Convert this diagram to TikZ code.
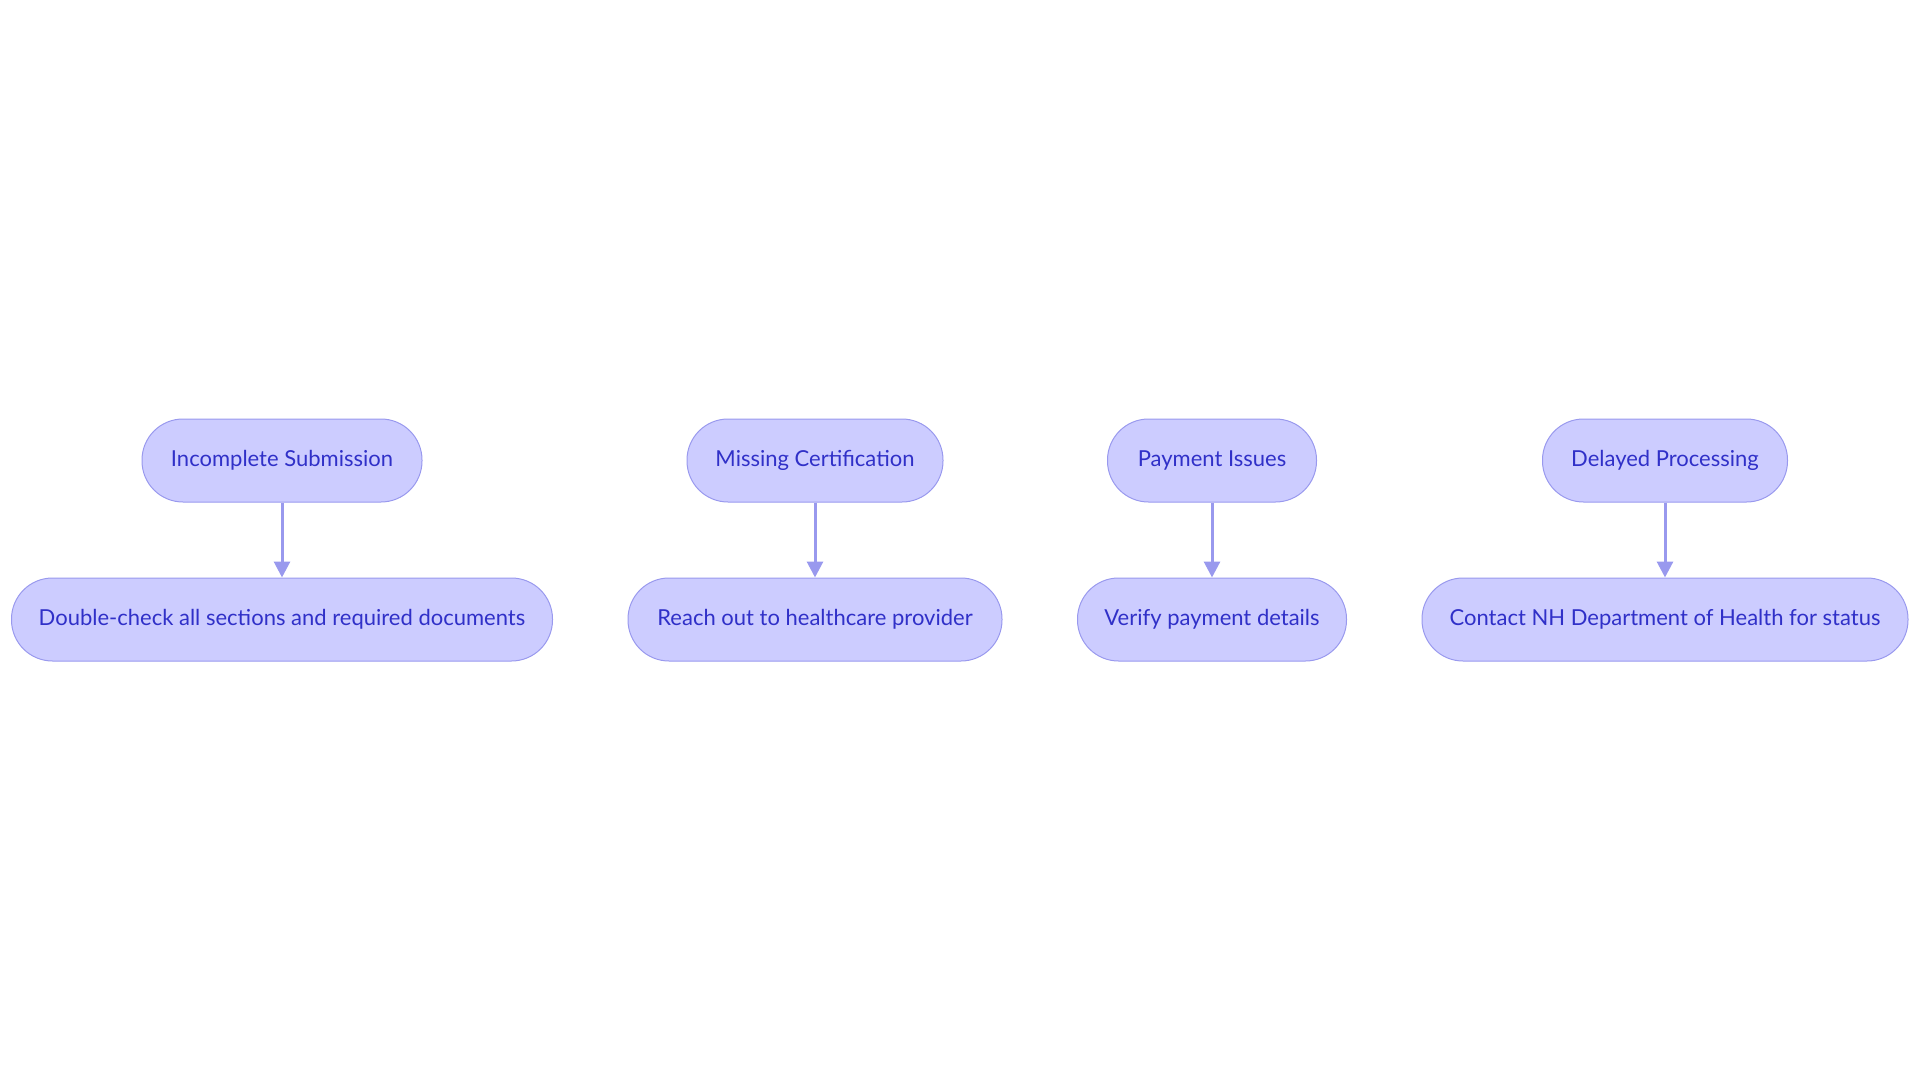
\documentclass[tikz,border=0pt]{standalone}
\usepackage{fontspec}
\setmainfont{Lato}
\usepackage{xcolor}
\usetikzlibrary{arrows.meta, positioning}

\definecolor{pillfill}{HTML}{CCCCFF}
\definecolor{pillline}{HTML}{9999EE}
\definecolor{pilltext}{HTML}{3030C8}

\begin{document}
\begin{tikzpicture}[>={Triangle[length=16pt,width=16pt]}, x=1pt, y=1pt, node distance=75pt]
  \tikzstyle{pill} = [rectangle, rounded corners=41pt, draw=pillline, fill=pillfill, text=pilltext, minimum height=83pt, line width=1pt, font=\fontsize{22}{26}\selectfont]
  \tikzstyle{link} = [->, draw=pillline, line width=3pt]

  \useasboundingbox (0,0) rectangle (1920,-1083);

  \node[pill, minimum width=280pt] (Incomplete) at (282,-460.5) {Incomplete Submission};
  \node[pill, minimum width=541pt, below=of Incomplete] (DoubleCheck) {Double-check all sections and required documents};

  \node[pill, minimum width=256pt] (Certification) at (815,-460.5) {Missing Certification};
  \node[pill, minimum width=374pt, below=of Certification] (Provider) {Reach out to healthcare provider};

  \node[pill, minimum width=209pt] (Payment) at (1212,-460.5) {Payment Issues};
  \node[pill, minimum width=269pt, below=of Payment] (Verify) {Verify payment details};

  \node[pill, minimum width=245pt] (Delayed) at (1665,-460.5) {Delayed Processing};
  \node[pill, minimum width=486pt, below=of Delayed] (Contact) {Contact NH Department of Health for status};

  \draw[link] (Incomplete) -- (DoubleCheck);
  \draw[link] (Certification) -- (Provider);
  \draw[link] (Payment) -- (Verify);
  \draw[link] (Delayed) -- (Contact);
\end{tikzpicture}
\end{document}
